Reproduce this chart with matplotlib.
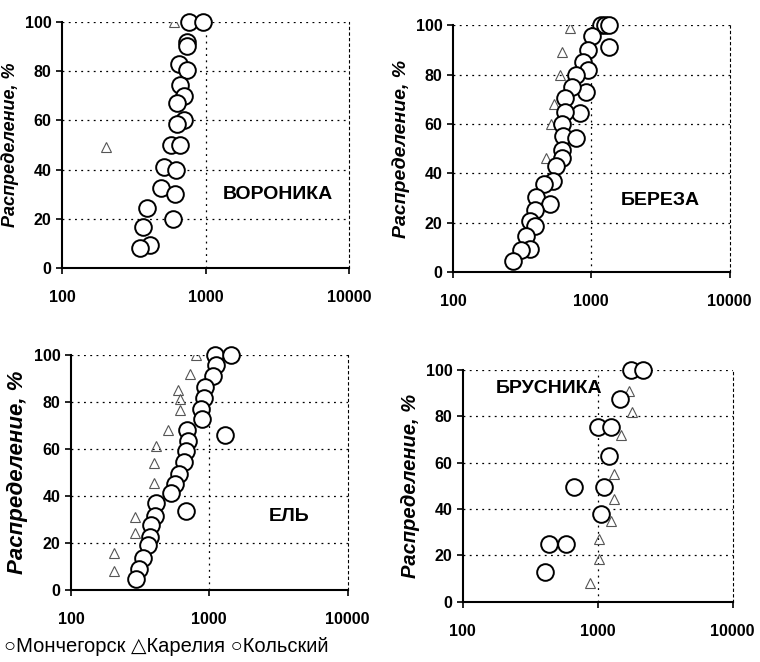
import matplotlib
matplotlib.use("Agg")
import matplotlib.pyplot as plt
from matplotlib.ticker import FixedLocator, FixedFormatter, NullLocator

plt.rcParams["font.family"] = ["Liberation Sans", "DejaVu Sans"]

# ВОРОНИКА
vor_circ_x = [762, 958, 741, 745, 649, 741, 666, 703, 632, 710, 632, 574, 666,
              510, 625, 489, 609, 391, 593, 366, 407, 351]
vor_circ_y = [100, 100, 92, 90, 83, 80.5, 74.5, 70, 67, 60, 58.5, 50, 50,
              41, 40, 32.5, 30, 24.5, 20, 16.5, 9.5, 8]
vor_tri_x = [600, 204]
vor_tri_y = [100, 49]

# БЕРЕЗА
ber_circ_x = [1181, 1260, 1343, 1343, 1017, 946, 871, 946, 779, 910, 729, 641,
              824, 641, 617, 624, 779, 617, 617, 552, 528, 455, 400, 500, 389,
              358, 389, 339, 358, 312, 271]
ber_circ_y = [100, 100, 100, 91, 95.5, 90, 85, 82, 80, 73, 75, 70.5,
              64.5, 65, 60, 55, 54.5, 49.5, 46, 43, 37, 35.5, 30.5, 27.5, 25,
              20.5, 18.5, 14.5, 9.5, 9, 4.5]
ber_tri_x = [697, 617, 591, 542, 512, 470]
ber_tri_y = [99, 89, 80, 68, 60, 46]

# ЕЛЬ
el_circ_x = [1092, 1442, 1111, 1062, 926, 910, 875, 891, 1290, 694, 702, 683,
             653, 604, 562, 532, 675, 415, 404, 382, 372, 361, 332, 311, 294]
el_circ_y = [100, 100, 95.5, 91, 86.5, 81.5, 77, 72.5, 66, 68, 63.5, 59,
             54.5, 49.5, 45, 41, 33.5, 37, 31.5, 27.5, 22.5, 19, 13.5, 9, 4.5]
el_tri_x = [806, 721, 594, 611, 611, 503, 415, 397, 397, 289, 289, 205, 205]
el_tri_y = [100, 92, 85, 81, 76.5, 68, 61, 54, 45.5, 31, 24, 15.5, 8]

# БРУСНИКА
bru_circ_x = [1766, 2153, 1464, 1000, 1256, 1206, 672, 1120, 1059, 438, 583, 407]
bru_circ_y = [100, 100, 87.5, 75.5, 75.5, 63, 49.5, 49.5, 38, 25, 25, 13]
bru_tri_x = [1717, 1795, 1489, 1328, 1328, 1256, 1017, 1017, 877]
bru_tri_y = [91, 82, 72, 55, 44.5, 35, 27, 18.5, 8]

panels = [
    ("ВОРОНИКА", vor_circ_x, vor_circ_y, vor_tri_x, vor_tri_y,
     [0.0816, 0.595, 0.378, 0.372], (0.75, 0.30), 13),
    ("БЕРЕЗА", ber_circ_x, ber_circ_y, ber_tri_x, ber_tri_y,
     [0.596, 0.589, 0.364, 0.373], (0.75, 0.29), 14),
    ("ЕЛЬ", el_circ_x, el_circ_y, el_tri_x, el_tri_y,
     [0.0934, 0.109, 0.364, 0.355], (0.79, 0.31), 16),
    ("БРУСНИКА", bru_circ_x, bru_circ_y, bru_tri_x, bru_tri_y,
     [0.609, 0.091, 0.355, 0.350], (0.32, 0.92), 14.5),
]

fig = plt.figure(figsize=(7.6, 6.62), dpi=100)

for name, cx, cy, tx, ty, rect, label_pos, ylab_size in panels:
    ax = fig.add_axes(rect)
    ax.set_xscale("log")
    ax.set_xlim(100, 10000)
    ax.set_ylim(0, 100)
    ax.xaxis.set_major_locator(FixedLocator([100, 1000, 10000]))
    ax.xaxis.set_major_formatter(FixedFormatter(["100", "1000", "10000"]))
    ax.xaxis.set_minor_locator(NullLocator())
    ax.set_yticks([0, 20, 40, 60, 80, 100])

    for y in [20, 40, 60, 80, 100]:
        ax.axhline(y, color="black", linewidth=0.9, linestyle=(0, (1.5, 3.5)), zorder=1)
    ax.axvline(1000, color="black", linewidth=0.9, linestyle=(0, (1.5, 3.5)), zorder=1)

    ax.spines["top"].set_visible(False)
    ax.spines["right"].set_linestyle((0, (2, 3)))
    ax.spines["right"].set_linewidth(0.8)
    ax.spines["left"].set_linewidth(1.5)
    ax.spines["bottom"].set_linewidth(1.5)

    ax.plot(tx, ty, linestyle="none", marker="^", markersize=7,
            markerfacecolor="none", markeredgecolor="#555555",
            markeredgewidth=0.8, zorder=2)
    ax.plot(cx, cy, linestyle="none", marker="o", markersize=12,
            markerfacecolor="white", markeredgecolor="black",
            markeredgewidth=1.4, zorder=3, clip_on=False)

    ax.tick_params(axis="both", labelsize=11.5, length=4, width=1.2)
    for lab in ax.get_yticklabels() + ax.get_xticklabels():
        lab.set_fontweight("bold")
    ax.tick_params(axis="x", pad=12)
    ax.set_ylabel("Распределение, %", fontsize=ylab_size, fontweight="bold",
                  fontstyle="italic")
    ax.text(label_pos[0], label_pos[1], name, transform=ax.transAxes,
            ha="center", va="center", fontsize=14, fontweight="bold")

fig.text(0.005, 0.024, "○Мончегорск △Карелия ○Кольский", fontsize=14.5,
         ha="left", va="center")

fig.savefig("out.png", dpi=100)
